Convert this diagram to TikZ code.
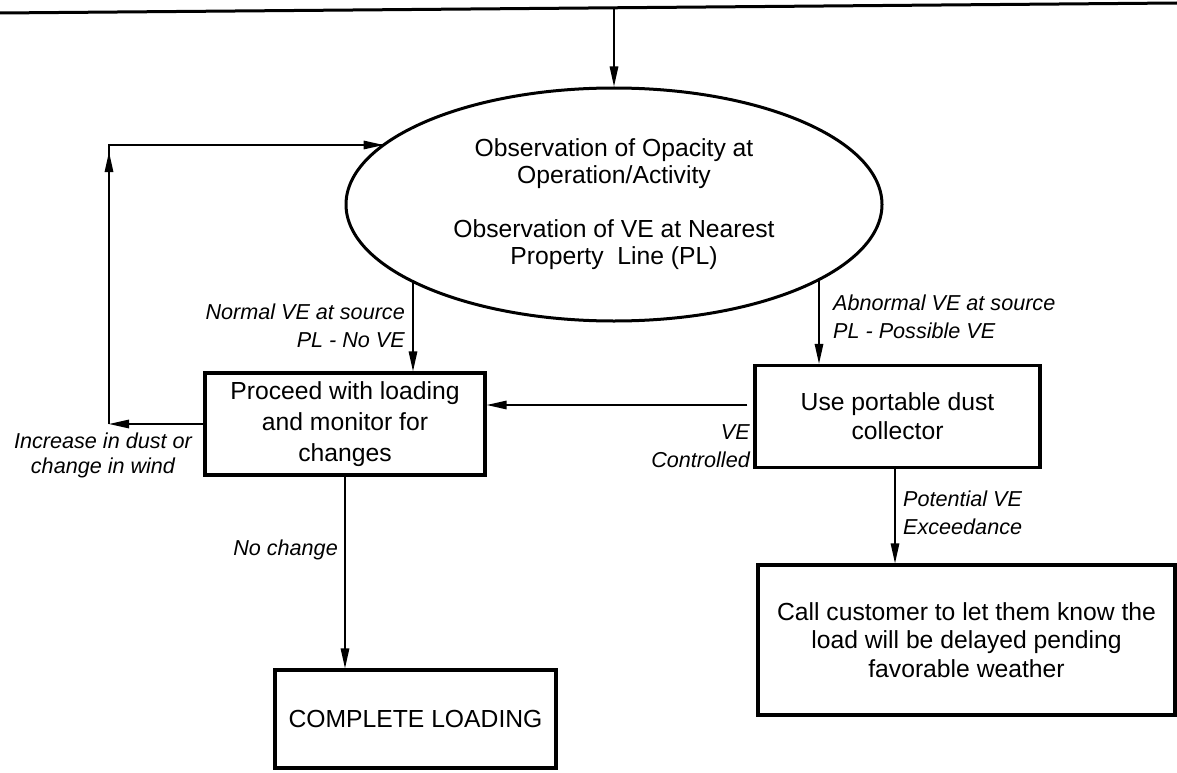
\documentclass[tikz,border=0pt]{standalone}
\usepackage{fontspec}
\setmainfont{Liberation Sans}
\usetikzlibrary{arrows.meta,shapes.geometric,calc}

\tikzset{
  x=1pt, y=-1pt,
  boxtxt/.style={font=\fontsize{24.7}{29}\selectfont, align=center},
  stepbox/.style={draw, line width=3.3pt, rectangle, inner sep=0pt, boxtxt},
  lbl/.style={font=\fontsize{21.6}{28}\selectfont\itshape, inner sep=0pt},
  arr/.style={line width=1.5pt, -{Triangle[length=20pt,width=8.5pt]}},
  plain/.style={line width=1.5pt}
}

\begin{document}
\begin{tikzpicture}
\useasboundingbox (0,0) rectangle (1177,773);

% incoming flow line across the top
\coordinate (tl) at (0,13);
\coordinate (tr) at (1177,3);
\coordinate (tin) at (614,7);
\draw[line width=3pt] (tl) -- (tr);

% observation ellipse
\node[ellipse, draw, line width=3pt, minimum width=536, minimum height=233,
      inner sep=0pt, font=\fontsize{24.7}{27}\selectfont, align=center] (obs) at (614,204.5)
  {Observation of Opacity at\\Operation/Activity\\[27pt]Observation of VE at Nearest\\Property\ \ Line (PL)};

% action boxes
\node[stepbox, minimum width=280, minimum height=102, font=\fontsize{24.7}{31}\selectfont] (proceed) at (345,424)
  {Proceed with loading\\and monitor for\\changes};
\node[stepbox, minimum width=285, minimum height=102] (dust) at (897.5,416.5)
  {Use portable dust\\collector};
\node[stepbox, minimum width=417, minimum height=150, font=\fontsize{24.7}{28.5}\selectfont] (call) at (966.5,640)
  {Call customer to let them know the\\load will be delayed pending\\favorable weather};
\node[stepbox, minimum width=281, minimum height=98] (done) at (415.5,719)
  {COMPLETE LOADING};

% connectors
\draw[arr] (tin) -- (tin |- obs.north);

\coordinate (eN) at ($(obs.center)+(-201,77)$);
\draw[arr] (eN) -- (eN |- proceed.north);

\coordinate (eA) at ($(obs.center)+(205,75)$);
\draw[arr] (eA) -- (eA |- dust.north);

\draw[arr, shorten <=6pt] ([yshift=11.5pt]dust.west) -- ([yshift=11.5pt]dust.west -| proceed.east);

\draw[arr] (proceed.south) -- (proceed.south |- done.north);
\draw[arr] ([xshift=-2.5pt]dust.south) -- ([xshift=-2.5pt]dust.south |- call.north);

% feedback loop back to the observation step
\coordinate (c1) at (109,424);
\coordinate (c2) at (109,145);
\coordinate (eL) at ($(obs.center)+(-230.4,-59.5)$);
\draw[arr] (proceed.west) -- (c1);
\draw[plain] (c1) -- (c2) -- (eL);
\draw[arr] (c1) -- ($(c2)+(0,7)$);
\draw[arr] (c2) -- (eL);

% connector labels
\node[lbl, anchor=east, align=right] (lN) at (405,326) {Normal VE at source\\PL - No VE};
\node[lbl, anchor=west, align=left] (lA) at (833,317) {Abnormal VE at source\\PL - Possible VE};
\node[lbl, anchor=east, align=right] (lC) at (750,446) {VE\\Controlled};
\node[lbl, anchor=west, align=left] (lP) at (903,513) {Potential VE\\Exceedance};
\node[lbl, anchor=east] (lNo) at (338,550) {No change};
\node[lbl, align=center, font=\fontsize{21.6}{25}\selectfont\itshape] (lI) at (103,455) {Increase in dust or\\change in wind};
\end{tikzpicture}
\end{document}
